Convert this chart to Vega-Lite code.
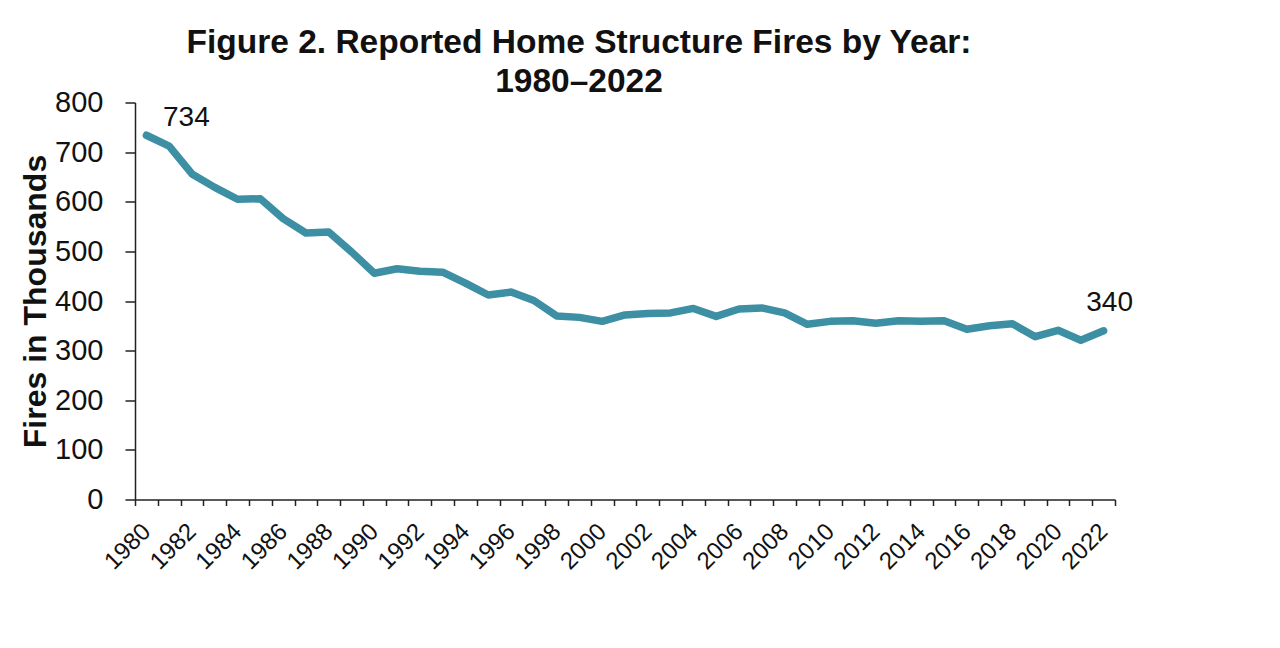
{
  "$schema": "https://vega.github.io/schema/vega-lite/v6.json",
  "autosize": "none",
  "width": 980,
  "height": 397,
  "padding": {"left": 135, "top": 102.5, "right": 165, "bottom": 148.5},
  "background": "white",
  "title": {
    "text": ["Figure 2. Reported Home Structure Fires by Year:", "1980–2022"],
    "anchor": "middle",
    "frame": "group",
    "dx": -46,
    "font": "Liberation Sans",
    "fontSize": 33.5,
    "fontWeight": "bold",
    "color": "#111111",
    "lineHeight": 39,
    "baseline": "bottom",
    "offset": -44
  },
  "config": {
    "view": {"stroke": null},
    "font": "Liberation Sans"
  },
  "data": {
    "values": [
      {"year": 1980, "fires": 734},
      {"year": 1981, "fires": 712},
      {"year": 1982, "fires": 656},
      {"year": 1983, "fires": 629},
      {"year": 1984, "fires": 605},
      {"year": 1985, "fires": 606},
      {"year": 1986, "fires": 566},
      {"year": 1987, "fires": 537},
      {"year": 1988, "fires": 539},
      {"year": 1989, "fires": 499},
      {"year": 1990, "fires": 456},
      {"year": 1991, "fires": 465},
      {"year": 1992, "fires": 460},
      {"year": 1993, "fires": 458},
      {"year": 1994, "fires": 436},
      {"year": 1995, "fires": 412},
      {"year": 1996, "fires": 418},
      {"year": 1997, "fires": 401},
      {"year": 1998, "fires": 370},
      {"year": 1999, "fires": 367},
      {"year": 2000, "fires": 359},
      {"year": 2001, "fires": 372},
      {"year": 2002, "fires": 375},
      {"year": 2003, "fires": 376},
      {"year": 2004, "fires": 385},
      {"year": 2005, "fires": 369},
      {"year": 2006, "fires": 384},
      {"year": 2007, "fires": 386},
      {"year": 2008, "fires": 376},
      {"year": 2009, "fires": 353},
      {"year": 2010, "fires": 359},
      {"year": 2011, "fires": 360},
      {"year": 2012, "fires": 355},
      {"year": 2013, "fires": 360},
      {"year": 2014, "fires": 359},
      {"year": 2015, "fires": 360},
      {"year": 2016, "fires": 343},
      {"year": 2017, "fires": 350},
      {"year": 2018, "fires": 354},
      {"year": 2019, "fires": 328},
      {"year": 2020, "fires": 341},
      {"year": 2021, "fires": 321},
      {"year": 2022, "fires": 340}
    ]
  },
  "encoding": {
    "x": {
      "field": "year",
      "type": "quantitative",
      "scale": {"domain": [1979.5, 2022.5], "nice": false, "zero": false},
      "axis": {
        "title": null,
        "grid": false,
        "values": [1979.5, 1980.5, 1981.5, 1982.5, 1983.5, 1984.5, 1985.5, 1986.5, 1987.5, 1988.5, 1989.5, 1990.5, 1991.5, 1992.5, 1993.5, 1994.5, 1995.5, 1996.5, 1997.5, 1998.5, 1999.5, 2000.5, 2001.5, 2002.5, 2003.5, 2004.5, 2005.5, 2006.5, 2007.5, 2008.5, 2009.5, 2010.5, 2011.5, 2012.5, 2013.5, 2014.5, 2015.5, 2016.5, 2017.5, 2018.5, 2019.5, 2020.5, 2021.5, 2022.5],
        "labelExpr": "(datum.value + 0.5) % 2 === 0 ? format(datum.value + 0.5, 'd') : ''",
        "labelOffset": 11.4,
        "labelAngle": -45,
        "labelAlign": "right",
        "labelBaseline": "middle",
        "labelFontSize": 24,
        "labelColor": "#111111",
        "labelPadding": 22,
        "labelOverlap": false,
        "labelFlush": false,
        "labelBound": false,
        "tickSize": 6,
        "tickColor": "#222222",
        "tickWidth": 1.5,
        "domainColor": "#222222",
        "domainWidth": 1.5
      }
    },
    "y": {
      "field": "fires",
      "type": "quantitative",
      "scale": {"domain": [0, 800], "nice": false},
      "axis": {
        "title": "Fires in Thousands",
        "titleFontSize": 32,
        "titleFontWeight": "bold",
        "titleColor": "#111111",
        "titlePadding": 2,
        "values": [0, 100, 200, 300, 400, 500, 600, 700, 800],
        "grid": false,
        "labelFontSize": 29,
        "labelColor": "#111111",
        "labelPadding": 22,
        "tickSize": 10,
        "tickColor": "#222222",
        "tickWidth": 1.5,
        "domainColor": "#222222",
        "domainWidth": 1.5
      }
    }
  },
  "layer": [
    {
      "mark": {"type": "line", "color": "#3d8fa3", "strokeWidth": 7.5, "strokeJoin": "round", "strokeCap": "round"}
    },
    {
      "transform": [{"filter": "datum.year == 1980"}],
      "mark": {"type": "text", "fontSize": 28, "color": "#111111", "align": "center", "baseline": "middle", "dx": 40, "dy": -17},
      "encoding": {"text": {"field": "fires", "type": "quantitative"}}
    },
    {
      "transform": [{"filter": "datum.year == 2022"}],
      "mark": {"type": "text", "fontSize": 28, "color": "#111111", "align": "center", "baseline": "middle", "dx": 6, "dy": -28},
      "encoding": {"text": {"field": "fires", "type": "quantitative"}}
    }
  ]
}
